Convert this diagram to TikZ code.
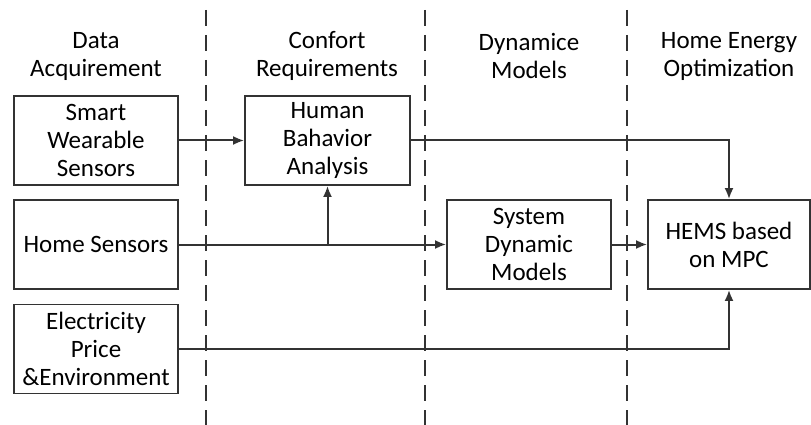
\documentclass[tikz,border=0pt]{standalone}
\usepackage{fontspec}
\setmainfont{Carlito}
\usepackage{tikz}
\usetikzlibrary{arrows.meta}
\definecolor{linegray}{rgb}{0.2,0.2,0.2}

\begin{document}
\begin{tikzpicture}[x=1pt,y=-1pt]
\tikzstyle{block} = [draw=linegray, line width=1.8pt, minimum width=164pt, minimum height=89pt, align=center, inner sep=0pt, font=\fontsize{25}{28}\selectfont]
\tikzstyle{header} = [align=center, font=\fontsize{25}{28}\selectfont]
\tikzstyle{divider} = [draw=linegray, line width=1.8pt, dash pattern=on 16pt off 9pt]
\tikzstyle{link} = [draw=linegray, line width=2pt, -{Latex[length=11pt,width=9pt]}]

\useasboundingbox (0,0) rectangle (811,425);

\node[header] (H1) at (96,56) {Data\\Acquirement};
\node[header] (H2) at (327,56) {Confort\\Requirements};
\node[header] (H3) at (529,56) {Dynamice\\Models};
\node[header] (H4) at (729,56) {Home Energy\\Optimization};

\draw[divider] (206,10) -- (206,425);
\draw[divider] (425,10) -- (425,425);
\draw[divider] (627,10) -- (627,425);

\node[block] (S) at (96,140.5) {Smart\\Wearable\\Sensors};
\node[block] (HS) at (96,244.5) {Home Sensors};
\node[block] (E) at (96,349) {Electricity\\Price\\\&Environment};
\node[block, minimum width=165pt] (HB) at (327.5,140.5) {Human\\Bahavior\\Analysis};
\node[block] (SD) at (529,244.5) {System\\Dynamic\\Models};
\node[block, minimum width=162pt] (M) at (729,244.5) {HEMS based\\on MPC};

\coordinate (J) at (HB.south |- HS.east);

\path[link] (S) -- (HB);
\path[link] (HS) -- (SD);
\path[link] (J) -- (HB);
\path[link] (SD) -- (M);
\path[link] (HB.east) -| (M.north);
\path[link] (E.east) -| (M.south);
\end{tikzpicture}
\end{document}
